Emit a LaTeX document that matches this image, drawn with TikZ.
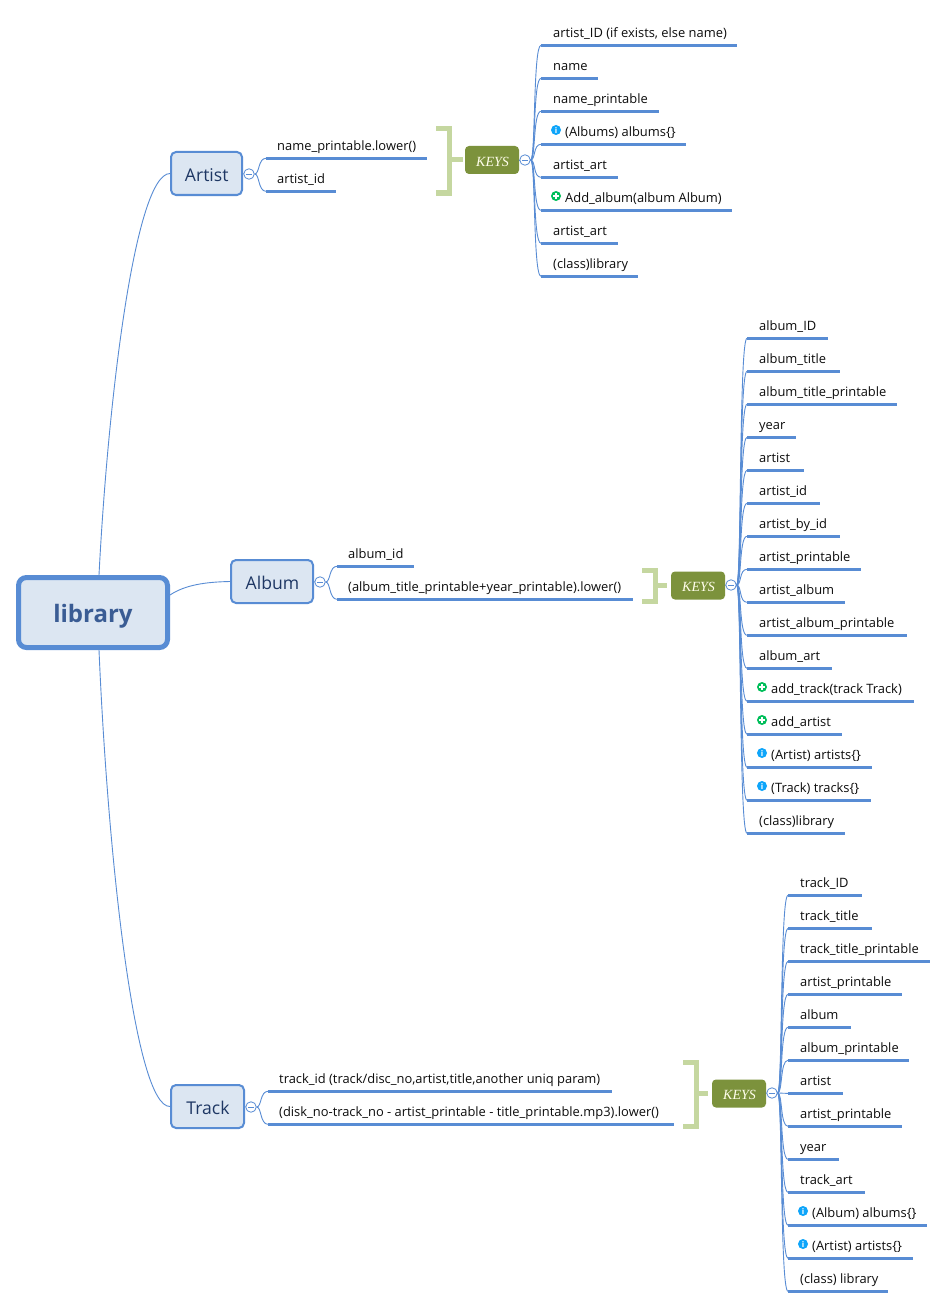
\documentclass[tikz,border=0pt]{standalone}
\usepackage{fontspec}
\setmainfont{Open Sans}
\newfontfamily\keyfont{Liberation Serif}
\definecolor{mblue}{RGB}{88,140,212}
\definecolor{boxfill}{RGB}{220,230,242}
\definecolor{boxtext}{RGB}{30,55,100}
\definecolor{roottext}{RGB}{58,92,148}
\definecolor{keyfill}{RGB}{124,146,60}
\definecolor{brk}{RGB}{197,215,160}
\definecolor{infoc}{RGB}{14,165,250}
\definecolor{addc}{RGB}{0,190,90}
\tikzset{
  x=1pt,y=-1pt,
  branch/.style={draw=mblue,line width=0.9pt},
  uline/.style={draw=mblue,line width=3.3pt},
  subject/.style={draw=mblue,fill=boxfill,line width=2pt,rounded corners=5pt,text=boxtext,inner sep=0pt,font=\fontsize{17.6}{20}\selectfont},
  rootbox/.style={draw=mblue,fill=boxfill,line width=5pt,rounded corners=8pt,text=roottext,inner sep=0pt,font=\fontsize{24}{28}\selectfont\bfseries},
  keybox/.style={fill=keyfill,rounded corners=4pt,text=white!92!yellow,inner sep=0pt,minimum width=54pt,minimum height=28pt,font=\keyfont\itshape\fontsize{14}{16}\selectfont},
  leaftext/.style={anchor=base west,inner sep=0pt,text=black!95,font=\fontsize{12.9}{15}\selectfont},
  bracket/.style={draw=brk,line width=5pt},
  collapse/.style={circle,draw=mblue,fill=white,line width=0.8pt,minimum size=10.5pt,inner sep=0pt,
    path picture={\draw[mblue,line width=0.8pt] ([xshift=-3pt]path picture bounding box.center)--([xshift=3pt]path picture bounding box.center);}},
  infoicon/.style={circle,fill=infoc,text=white,minimum size=10pt,inner sep=0pt,font=\bfseries\fontsize{8}{8}\selectfont},
  addicon/.style={circle,fill=addc,minimum size=10pt,inner sep=0pt,
    path picture={\draw[white,line width=1.6pt]
      ([xshift=-2.8pt]path picture bounding box.center)--([xshift=2.8pt]path picture bounding box.center)
      ([yshift=-2.8pt]path picture bounding box.center)--([yshift=2.8pt]path picture bounding box.center);}},
}
\newcommand\lowered[2]{\raisebox{-#1pt}[0pt][0pt]{#2}}
% [text offset], hub, id, y, x0, x1, text
\newcommand\leafnode[7][13]{%
  \coordinate (#3-l) at ({#5+1},{#4-0.7});
  \coordinate (#3-r) at (#6,{#4-0.7});
  \node[leaftext] (#3) at ({#5+#1},{#4-8.8}) {#7};
  \draw[uline] (#3-l) -- (#3-r);
  \draw[branch] (#2.east) .. controls +(5,0) and +(-8,0) .. (#3-l);
}
\newcommand\infoleaf[6]{%
  \coordinate (#2-l) at ({#4+1},{#3-0.7});
  \coordinate (#2-r) at (#5,{#3-0.7});
  \node[infoicon] (#2-i) at ({#4+16},{#3-15}) {i};
  \node[leaftext] (#2) at ({#4+25},{#3-8.8}) {#6};
  \draw[uline] (#2-l) -- (#2-r);
  \draw[branch] (#1.east) .. controls +(5,0) and +(-8,0) .. (#2-l);
}
\newcommand\addleaf[6]{%
  \coordinate (#2-l) at ({#4+1},{#3-0.7});
  \coordinate (#2-r) at (#5,{#3-0.7});
  \node[addicon] (#2-i) at ({#4+16},{#3-15}) {};
  \node[leaftext] (#2) at ({#4+25},{#3-8.8}) {#6};
  \draw[uline] (#2-l) -- (#2-r);
  \draw[branch] (#1.east) .. controls +(5,0) and +(-8,0) .. (#2-l);
}
\begin{document}
\begin{tikzpicture}
\useasboundingbox[fill=white] (0,0) rectangle (948,1308);

% main nodes
\node[rootbox,minimum width=149pt,minimum height=70pt] (root) at (93,612.5) {\lowered{9.5}{library}};
\node[subject,minimum width=71pt,minimum height=43pt] (artist) at (206.5,173.5) {\lowered{8.3}{\hspace{0.5pt}Artist}};
\node[subject,minimum width=82pt,minimum height=43pt] (album) at (272,581.5) {\lowered{7.8}{\hspace{1pt}Album}};
\node[subject,minimum width=73pt,minimum height=43pt] (track) at (207.5,1106.5) {\lowered{7.8}{\hspace{1pt}Track}};

\draw[branch] ([xshift=6pt]root.north) .. controls (108,400) and (135,174) .. (artist.west);
\draw[branch] (root.east |- 0,595) .. controls (185,585) and (205,582) .. (album.west);
\draw[branch] ([xshift=6pt]root.south) .. controls (108,860) and (135,1107) .. (track.west);

% collapse circles
\node[collapse] (cArtist) at (249,174) {};
\node[collapse] (cAlbum) at (320,582) {};
\node[collapse] (cTrack) at (251,1107) {};
\draw[branch] (artist.east) -- (cArtist.west);
\draw[branch] (album.east) -- (cAlbum.west);
\draw[branch] (track.east) -- (cTrack.west);

% key nodes
\node[keybox] (kArtist) at (492,160) {\lowered{6.3}{\hspace{1pt}KEYS}};
\node[keybox] (kAlbum) at (698,585.5) {\lowered{5.8}{\hspace{1pt}KEYS}};
\node[keybox] (kTrack) at (739,1093.5) {\lowered{5.8}{\hspace{1pt}KEYS}};
\node[collapse] (hArtist) at (525,160) {};
\node[collapse] (hAlbum) at (731,585) {};
\node[collapse] (hTrack) at (772,1093) {};
\draw[branch] (kArtist.east) -- (hArtist.west);
\draw[branch] (kAlbum.east) -- (hAlbum.west);
\draw[branch] (kTrack.east) -- (hTrack.west);

% brackets
\draw[bracket,line cap=butt] (436,129) -- (449,129) -- (449,193) -- (436,193);
\draw[bracket] (449,160) -- ([xshift=-2pt]kArtist.west);
\draw[bracket,line cap=butt] (642,570) -- (655,570) -- (655,601) -- (642,601);
\draw[bracket] (655,585.5) -- ([xshift=-4pt]kAlbum.west);
\draw[bracket,line cap=butt] (683,1062) -- (696,1062) -- (696,1126) -- (683,1126);
\draw[bracket] (696,1093.5) -- ([xshift=-4pt]kTrack.west);

% second level
\leafnode[12]{cArtist}{ar1}{159}{265}{427}{name\_printable.lower()}
\leafnode[12]{cArtist}{ar2}{192}{265}{336}{artist\_id}
\leafnode[12]{cAlbum}{al1}{567}{336}{414}{album\_id}
\leafnode[12]{cAlbum}{al2}{600}{336}{633}{(album\_title\_printable+year\_printable).lower()}
\leafnode[12]{cTrack}{tr1}{1092}{267}{612}{track\_id (track/disc\_no,artist,title,another uniq param)}
\leafnode[12]{cTrack}{tr2}{1125}{267}{674}{(disk\_no-track\_no - artist\_printable - title\_printable.mp3).lower()}

% artist keys
\leafnode{hArtist}{a1}{46}{540}{737}{artist\_ID (if exists, else name)}
\leafnode{hArtist}{a2}{79}{540}{598}{name}
\leafnode{hArtist}{a3}{112}{540}{659}{name\_printable}
\infoleaf{hArtist}{a4}{145}{540}{686}{(Albums) albums\{\}}
\leafnode{hArtist}{a5}{178}{540}{618}{artist\_art}
\addleaf{hArtist}{a6}{211}{540}{732}{Add\_album(album Album)}
\leafnode{hArtist}{a7}{244}{540}{618}{artist\_art}
\leafnode{hArtist}{a8}{277}{540}{638}{(class)library}

% album keys
\leafnode{hAlbum}{b1}{339}{746}{828}{album\_ID}
\leafnode{hAlbum}{b2}{372}{746}{840}{album\_title}
\leafnode{hAlbum}{b3}{405}{746}{897}{album\_title\_printable}
\leafnode{hAlbum}{b4}{438}{746}{796}{year}
\leafnode{hAlbum}{b5}{471}{746}{804}{artist}
\leafnode{hAlbum}{b6}{504}{746}{820}{artist\_id}
\leafnode{hAlbum}{b7}{537}{746}{840}{artist\_by\_id}
\leafnode{hAlbum}{b8}{570}{746}{861}{artist\_printable}
\leafnode{hAlbum}{b9}{603}{746}{845}{artist\_album}
\leafnode{hAlbum}{b10}{636}{746}{907}{artist\_album\_printable}
\leafnode{hAlbum}{b11}{669}{746}{832}{album\_art}
\addleaf{hAlbum}{b12}{702}{746}{914}{add\_track(track Track)}
\addleaf{hAlbum}{b13}{735}{746}{842}{add\_artist}
\infoleaf{hAlbum}{b14}{768}{746}{872}{(Artist) artists\{\}}
\infoleaf{hAlbum}{b15}{801}{746}{871}{(Track) tracks\{\}}
\leafnode{hAlbum}{b16}{834}{746}{845}{(class)library}

% track keys
\leafnode{hTrack}{c1}{896}{787}{862}{track\_ID}
\leafnode{hTrack}{c2}{929}{787}{872}{track\_title}
\leafnode{hTrack}{c3}{962}{787}{930}{track\_title\_printable}
\leafnode{hTrack}{c4}{995}{787}{902}{artist\_printable}
\leafnode{hTrack}{c5}{1028}{787}{851}{album}
\leafnode{hTrack}{c6}{1061}{787}{909}{album\_printable}
\leafnode{hTrack}{c7}{1094}{787}{843}{artist}
\leafnode{hTrack}{c8}{1127}{787}{902}{artist\_printable}
\leafnode{hTrack}{c9}{1160}{787}{839}{year}
\leafnode{hTrack}{c10}{1193}{787}{865}{track\_art}
\infoleaf{hTrack}{c11}{1226}{787}{927}{(Album) albums\{\}}
\infoleaf{hTrack}{c12}{1259}{787}{913}{(Artist) artists\{\}}
\leafnode{hTrack}{c13}{1292}{787}{888}{(class) library}
\end{tikzpicture}
\end{document}
